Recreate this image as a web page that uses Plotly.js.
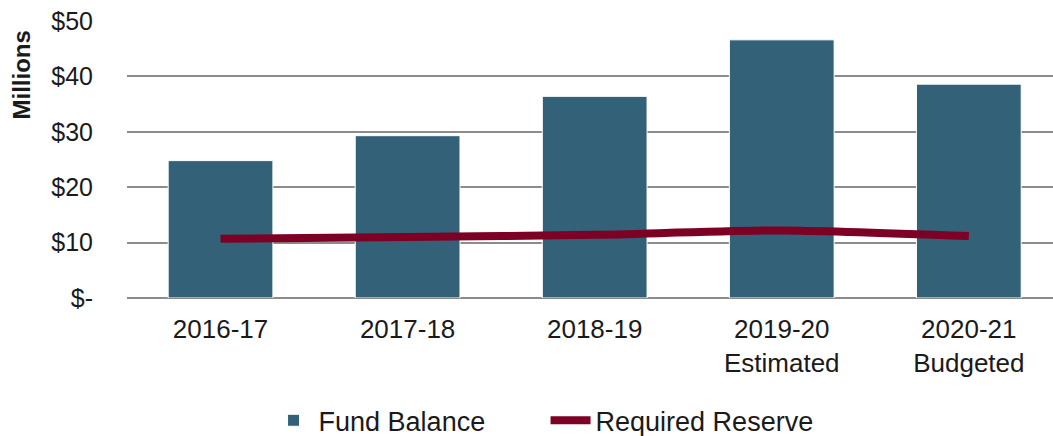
<!DOCTYPE html>
<html>
<head>
<meta charset="utf-8">
<script src="https://cdn.plot.ly/plotly-3.0.1.min.js"></script>
<style>
html,body{margin:0;padding:0;background:#fff;}
#chart{width:1053px;height:436px;}
</style>
</head>
<body>
<div id="chart"></div>
<script>
const categories = ["2016-17", "2017-18", "2018-19", "2019-20<br>Estimated", "2020-21<br>Budgeted"];
const fundBalance = [24.8, 29.3, 36.4, 46.6, 38.6];
const requiredReserve = [10.7, 11.0, 11.4, 12.2, 11.2];
const yTickVals = [0, 10, 20, 30, 40, 50];
const yTickText = ["$-", "$10", "$20", "$30", "$40", "$50"];
const seriesNames = ["Fund Balance", "Required Reserve"];
const yTitle = "Millions";

const FONT = "'Liberation Sans', Arial, sans-serif";

const traces = [
  {
    type: "bar",
    name: seriesNames[0],
    x: categories,
    y: fundBalance,
    marker: {color: "#336178", line: {color: "#ffffff", width: 1}},
    hoverinfo: "none"
  },
  {
    type: "scatter",
    mode: "lines",
    name: seriesNames[1],
    x: categories,
    y: requiredReserve,
    line: {color: "#7d0025", width: 8, shape: "spline", smoothing: 0.6},
    hoverinfo: "none"
  }
];

const layout = {
  width: 1053,
  height: 436,
  margin: {l: 127, r: 0, t: 21, b: 138},
  paper_bgcolor: "#ffffff",
  plot_bgcolor: "#ffffff",
  font: {family: FONT, size: 24, color: "#1a1a1a"},
  bargap: 0.44,
  showlegend: true,
  legend: {
    orientation: "h",
    x: 0.452, xanchor: "center",
    yref: "container", y: 0.035, yanchor: "middle",
    font: {family: FONT, size: 27, color: "#1a1a1a"},
    traceorder: "normal",
    itemwidth: 40,
    entrywidth: 222,
    entrywidthmode: "pixels"
  },
  xaxis: {
    type: "category",
    range: [-0.5, 4.45],
    showgrid: false,
    zeroline: false,
    showline: false,
    ticks: "",
    tickfont: {family: FONT, size: 26, color: "#1a1a1a"},
    ticklabelstandoff: 13
  },
  yaxis: {
    range: [0, 50],
    tickvals: yTickVals,
    ticktext: yTickText,
    showgrid: true,
    gridcolor: "#8c8c8c",
    gridwidth: 2,
    zeroline: true,
    zerolinecolor: "#8c8c8c",
    zerolinewidth: 2,
    showline: false,
    ticks: "",
    tickfont: {family: FONT, size: 25, color: "#1a1a1a"},
    ticklabelstandoff: 33
  },
  annotations: [
    {
      text: "<b>" + yTitle + "</b>",
      xref: "paper", yref: "paper",
      x: 0, y: 1,
      xanchor: "center", yanchor: "top",
      xshift: -106, yshift: -8,
      textangle: -90,
      showarrow: false,
      font: {family: FONT, size: 24, color: "#1a1a1a"}
    }
  ]
};

Plotly.newPlot("chart", traces, layout, {displayModeBar: false, staticPlot: true});
</script>
</body>
</html>
